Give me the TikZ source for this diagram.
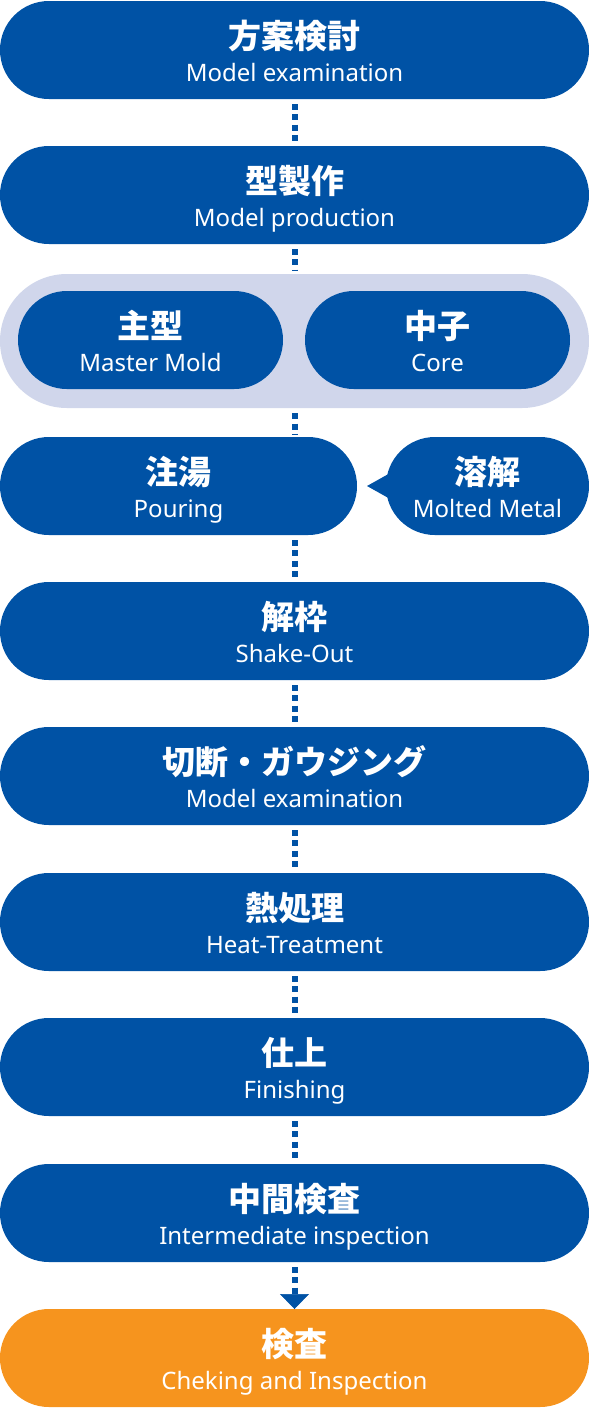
\documentclass[tikz,border=0pt]{standalone}
\usepackage{fontspec}
\setmainfont{Noto Sans}
\newfontfamily\jp{Noto Sans CJK JP}
\usetikzlibrary{arrows.meta,calc}
\definecolor{cblue}{HTML}{0052A5}
\definecolor{clight}{HTML}{D0D6EB}
\definecolor{corange}{HTML}{F6941E}
\newcommand\stagebox[7]{%
  \node[box, fill=#7, minimum width=#4pt] (#1) at (#2,-#3) {};
  \node[jtxt] (#1j) at ($(#1.center)+(0,1.5)$) {#5};
  \node[etxt] (#1e) at ($(#1.center)+(0,-31)$) {#6};}
\begin{document}
\begin{tikzpicture}[x=1pt,y=1pt,
  box/.style={rectangle, rounded corners=48.9pt, minimum height=98pt, inner sep=0pt, outer sep=0pt},
  jtxt/.style={text=white, anchor=base, inner sep=0pt, font=\jp\bfseries\fontsize{33}{33}\selectfont},
  etxt/.style={text=white, anchor=base, inner sep=0pt, font=\fontsize{24}{24}\selectfont},
  dots/.style={draw=cblue, line width=6pt, dash pattern=on 6pt off 4.3pt, shorten <=5pt, shorten >=3pt}]
\useasboundingbox (0,0) rectangle (589,-1409);
% group background
\node[rectangle, fill=clight, rounded corners=66.9pt, minimum width=589pt, minimum height=134pt, inner sep=0pt] (grp) at (294.5,-341) {};
\stagebox{s1}{294.5}{50}{589}{方案検討}{Model examination}{cblue}
\stagebox{s2}{294.5}{195}{589}{型製作}{Model production}{cblue}
\stagebox{ma}{150.5}{340}{265}{主型}{Master Mold}{cblue}
\stagebox{co}{437.5}{340}{265}{中子}{Core}{cblue}
\stagebox{po}{178.5}{486}{357}{注湯}{Pouring}{cblue}
% pointer of the molten metal bubble
\fill[cblue] (367,-486) -- (392,-472) -- (392,-500) -- cycle;
\stagebox{mm}{487.5}{486}{203}{溶解}{Molted Metal}{cblue}
\stagebox{s4}{294.5}{631}{589}{解枠}{Shake-Out}{cblue}
\stagebox{s5}{294.5}{776}{589}{切断・ガウジング}{Model examination}{cblue}
\stagebox{s6}{294.5}{922}{589}{熱処理}{Heat-Treatment}{cblue}
\stagebox{s7}{294.5}{1067}{589}{仕上}{Finishing}{cblue}
\stagebox{s8}{294.5}{1213}{589}{中間検査}{Intermediate inspection}{cblue}
\stagebox{s9}{294.5}{1358}{589}{検査}{Cheking and Inspection}{corange}
% connectors
\draw[dots] (s1.south) -- (s2.north);
\draw[dots] (s2.south) -- (grp.north);
\draw[dots] (grp.south) -- (grp.south |- po.north);
\draw[dots] (grp.south |- po.south) -- (s4.north);
\draw[dots] (s4.south) -- (s5.north);
\draw[dots] (s5.south) -- (s6.north);
\draw[dots] (s6.south) -- (s7.north);
\draw[dots] (s7.south) -- (s8.north);
\draw[dots, shorten >=0pt, -{Triangle[width=29pt,length=15pt,line width=0.5pt]}] (s8.south) -- (s9.north);
\end{tikzpicture}
\end{document}
